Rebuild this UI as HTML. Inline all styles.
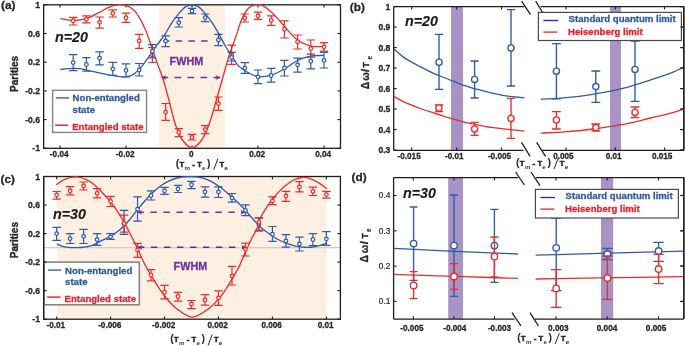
<!DOCTYPE html><html><head><meta charset="utf-8"><style>html,body{margin:0;padding:0;background:#fff;}svg{display:block;font-family:"Liberation Sans",sans-serif;will-change:transform;}</style></head><body>
<svg width="685" height="346" viewBox="0 0 685 346">
<rect width="685" height="346" fill="#fff"/>
<rect x="159.2" y="4.8" width="65.6" height="143.5" fill="#FDEFE1"/>
<rect x="43.65" y="4.8" width="296.85" height="143.5" fill="none" stroke="#1E1E1E" stroke-width="1.3"/>
<line x1="60" y1="4.8" x2="60" y2="7.6" stroke="#1E1E1E" stroke-width="1.1"/>
<line x1="60" y1="148.3" x2="60" y2="145.5" stroke="#1E1E1E" stroke-width="1.1"/>
<text x="59.2" y="156.7" font-size="8.2" fill="#262626" text-anchor="middle" font-weight="bold" stroke="#262626" stroke-width="0.28">-0.04</text>
<line x1="126" y1="4.8" x2="126" y2="7.6" stroke="#1E1E1E" stroke-width="1.1"/>
<line x1="126" y1="148.3" x2="126" y2="145.5" stroke="#1E1E1E" stroke-width="1.1"/>
<text x="125.2" y="156.7" font-size="8.2" fill="#262626" text-anchor="middle" font-weight="bold" stroke="#262626" stroke-width="0.28">-0.02</text>
<line x1="192" y1="4.8" x2="192" y2="7.6" stroke="#1E1E1E" stroke-width="1.1"/>
<line x1="192" y1="148.3" x2="192" y2="145.5" stroke="#1E1E1E" stroke-width="1.1"/>
<text x="191.2" y="156.7" font-size="8.2" fill="#262626" text-anchor="middle" font-weight="bold" stroke="#262626" stroke-width="0.28">0</text>
<line x1="258" y1="4.8" x2="258" y2="7.6" stroke="#1E1E1E" stroke-width="1.1"/>
<line x1="258" y1="148.3" x2="258" y2="145.5" stroke="#1E1E1E" stroke-width="1.1"/>
<text x="257.2" y="156.7" font-size="8.2" fill="#262626" text-anchor="middle" font-weight="bold" stroke="#262626" stroke-width="0.28">0.02</text>
<line x1="324" y1="4.8" x2="324" y2="7.6" stroke="#1E1E1E" stroke-width="1.1"/>
<line x1="324" y1="148.3" x2="324" y2="145.5" stroke="#1E1E1E" stroke-width="1.1"/>
<text x="323.2" y="156.7" font-size="8.2" fill="#262626" text-anchor="middle" font-weight="bold" stroke="#262626" stroke-width="0.28">0.04</text>
<line x1="43.65" y1="4.8" x2="46.65" y2="4.8" stroke="#1E1E1E" stroke-width="1.1"/>
<line x1="340.5" y1="4.8" x2="337.5" y2="4.8" stroke="#1E1E1E" stroke-width="1.1"/>
<text x="40" y="7.9" font-size="8.6" fill="#262626" text-anchor="end" font-weight="bold" stroke="#262626" stroke-width="0.28">1</text>
<line x1="43.65" y1="33.5" x2="46.65" y2="33.5" stroke="#1E1E1E" stroke-width="1.1"/>
<line x1="340.5" y1="33.5" x2="337.5" y2="33.5" stroke="#1E1E1E" stroke-width="1.1"/>
<text x="40" y="36.6" font-size="8.6" fill="#262626" text-anchor="end" font-weight="bold" stroke="#262626" stroke-width="0.28">0.6</text>
<line x1="43.65" y1="62.2" x2="46.65" y2="62.2" stroke="#1E1E1E" stroke-width="1.1"/>
<line x1="340.5" y1="62.2" x2="337.5" y2="62.2" stroke="#1E1E1E" stroke-width="1.1"/>
<text x="40" y="65.3" font-size="8.6" fill="#262626" text-anchor="end" font-weight="bold" stroke="#262626" stroke-width="0.28">0.2</text>
<line x1="43.65" y1="90.9" x2="46.65" y2="90.9" stroke="#1E1E1E" stroke-width="1.1"/>
<line x1="340.5" y1="90.9" x2="337.5" y2="90.9" stroke="#1E1E1E" stroke-width="1.1"/>
<text x="40" y="94" font-size="8.6" fill="#262626" text-anchor="end" font-weight="bold" stroke="#262626" stroke-width="0.28">-0.2</text>
<line x1="43.65" y1="119.6" x2="46.65" y2="119.6" stroke="#1E1E1E" stroke-width="1.1"/>
<line x1="340.5" y1="119.6" x2="337.5" y2="119.6" stroke="#1E1E1E" stroke-width="1.1"/>
<text x="40" y="122.7" font-size="8.6" fill="#262626" text-anchor="end" font-weight="bold" stroke="#262626" stroke-width="0.28">-0.6</text>
<line x1="43.65" y1="148.3" x2="46.65" y2="148.3" stroke="#1E1E1E" stroke-width="1.1"/>
<line x1="340.5" y1="148.3" x2="337.5" y2="148.3" stroke="#1E1E1E" stroke-width="1.1"/>
<text x="40" y="151.4" font-size="8.6" fill="#262626" text-anchor="end" font-weight="bold" stroke="#262626" stroke-width="0.28">-1</text>
<path d="M60.3,69.5 C62.43,69.23 64.56,68.9 66.7,68.7 C68.83,68.5 70.92,68.31 73.1,68.3 C75.38,68.29 77.58,68.36 80.1,68.7 C83.13,69.11 86.56,70.05 90,70.8 C93.74,71.61 97.79,72.58 101.7,73.4 C105.59,74.22 109.5,75.12 113.4,75.7 C117.26,76.28 121.79,77.06 125,76.9 C127.31,76.79 129.11,76.42 130.9,75.7 C132.6,75.02 134.08,73.87 135.5,72.8 C136.87,71.76 137.95,70.84 139.3,69.4 C141.2,67.38 143.45,64.29 145.5,61.5 C147.69,58.51 149.87,55.02 152,52 C153.97,49.2 155.77,46.76 157.8,44 C159.99,41.01 162.48,38.03 164.7,34.7 C167.1,31.1 169.19,26.68 171.6,23.1 C173.83,19.79 176.18,16.69 178.6,13.9 C180.83,11.33 183.1,8.42 185.5,6.9 C187.43,5.68 189.41,4.85 191.5,4.8 C193.74,4.75 196.33,5.59 198.5,6.9 C201.02,8.42 203.17,11.33 205.4,13.9 C207.82,16.69 210.17,19.79 212.4,23.1 C214.81,26.68 217.04,30.71 219.3,34.7 C221.64,38.84 223.93,43.79 226.2,47.5 C228.05,50.54 229.86,52.71 231.7,55.5 C233.66,58.49 235.16,62.22 237.6,64.9 C240.01,67.55 242.98,69.61 246.2,71.5 C249.71,73.56 253.89,75.98 258,76.6 C262.15,77.23 266.72,76.38 271,75.2 C275.56,73.94 280.13,71.41 284.5,69 C288.97,66.53 292.99,62.65 297.5,60.5 C301.78,58.46 306.32,57.06 310.8,56.2 C315.16,55.36 319.6,55.6 324,55.3" stroke="#2E5AAA" stroke-width="1.3" fill="none"/>
<path d="M60.4,18.7 C63.2,19.17 66.21,19.8 68.8,20.1 C71.02,20.36 72.63,20.64 75,20.5 C78.24,20.31 82.55,19.63 86.4,18.4 C90.7,17.03 95.53,14.27 99.5,12.3 C102.89,10.62 105.46,8.65 108.8,7.4 C112.31,6.08 116.56,4.74 120.1,4.7 C123.21,4.67 126.35,5.4 128.9,6.6 C131.27,7.71 133.17,9.43 135,11.4 C137.02,13.58 138.66,16.48 140.3,19.3 C142.04,22.29 143.58,25.41 145.1,28.9 C146.84,32.89 148.33,37.27 150,42 C151.95,47.51 153.87,53.91 156,60 C158.22,66.34 160.97,72.71 163.1,79.3 C165.28,86.04 166.9,92.73 168.9,100 C171.12,108.08 173.13,118.31 175.8,125.6 C177.9,131.34 179.78,136.63 182.8,140.5 C185.37,143.79 188.92,147.99 192,148 C195.09,148.01 198.63,143.91 201.3,140.5 C204.68,136.19 206.93,129.68 209.4,123.2 C212.37,115.4 214.89,104.94 217.3,96.7 C219.4,89.52 221.17,83.24 223.1,76.5 C225.04,69.74 226.74,62.92 228.9,56.2 C231.07,49.42 233.86,42.48 236.1,36 C238.17,30.02 239.85,23.33 241.9,18.7 C243.37,15.38 244.75,12.7 246.5,10.5 C247.95,8.67 249.46,7.07 251.3,6.1 C253.1,5.15 255.37,4.7 257.4,4.7 C259.43,4.7 261.45,5.12 263.5,6.1 C266.1,7.34 268.99,10.17 271.4,12.3 C273.63,14.28 275.44,16.18 277.5,18.4 C279.8,20.87 281.76,23.5 284.5,26.5 C288.12,30.47 292.81,36.65 297.5,40 C301.65,42.97 306.26,45.12 310.8,46.2 C315.11,47.22 319.6,46.47 324,46.6" stroke="#EA2D2A" stroke-width="1.3" fill="none"/>
<line x1="163" y1="41.1" x2="209" y2="41.1" stroke="#7030A0" stroke-width="1.5" stroke-dasharray="6.5 6.2" stroke-dashoffset="0"/>
<line x1="161.5" y1="77.5" x2="220.3" y2="77.5" stroke="#7030A0" stroke-width="1.5" stroke-dasharray="6.7 6.3"/>
<path d="M161.5,77.5 L166.1,75.1 L164.9,77.5 L166.1,79.9 Z" fill="#7030A0"/>
<path d="M220.3,77.5 L215.7,75.1 L216.9,77.5 L215.7,79.9 Z" fill="#7030A0"/>
<path d="M73.2,17.4V25M69,17.4H77.4M69,25H77.4" stroke="#EA2D2A" stroke-width="1.2" fill="none"/>
<circle cx="73.2" cy="20.7" r="1.8" fill="#fff" stroke="#EA2D2A" stroke-width="1.25"/>
<path d="M86.4,15.8V22.8M82.2,15.8H90.6M82.2,22.8H90.6" stroke="#EA2D2A" stroke-width="1.2" fill="none"/>
<circle cx="86.4" cy="19.3" r="1.8" fill="#fff" stroke="#EA2D2A" stroke-width="1.25"/>
<path d="M99.6,17V28.2M95.4,17H103.8M95.4,28.2H103.8" stroke="#EA2D2A" stroke-width="1.2" fill="none"/>
<circle cx="99.6" cy="22.3" r="1.8" fill="#fff" stroke="#EA2D2A" stroke-width="1.25"/>
<path d="M112.8,9.9V17M108.6,9.9H117M108.6,17H117" stroke="#EA2D2A" stroke-width="1.2" fill="none"/>
<circle cx="112.8" cy="13.3" r="1.8" fill="#fff" stroke="#EA2D2A" stroke-width="1.25"/>
<path d="M126,13.2V22.4M121.8,13.2H130.2M121.8,22.4H130.2" stroke="#EA2D2A" stroke-width="1.2" fill="none"/>
<circle cx="126" cy="17.7" r="1.8" fill="#fff" stroke="#EA2D2A" stroke-width="1.25"/>
<path d="M139.2,34.4V48.3M135,34.4H143.4M135,48.3H143.4" stroke="#EA2D2A" stroke-width="1.2" fill="none"/>
<circle cx="139.2" cy="41" r="1.8" fill="#fff" stroke="#EA2D2A" stroke-width="1.25"/>
<path d="M152.4,47.6V62.5M148.2,47.6H156.6M148.2,62.5H156.6" stroke="#EA2D2A" stroke-width="1.2" fill="none"/>
<circle cx="152.4" cy="55" r="1.8" fill="#fff" stroke="#EA2D2A" stroke-width="1.25"/>
<path d="M165.6,103.5V120.4M161.4,103.5H169.8M161.4,120.4H169.8" stroke="#EA2D2A" stroke-width="1.2" fill="none"/>
<circle cx="165.6" cy="112.2" r="1.8" fill="#fff" stroke="#EA2D2A" stroke-width="1.25"/>
<path d="M178.8,128.6V136.6M174.6,128.6H183M174.6,136.6H183" stroke="#EA2D2A" stroke-width="1.2" fill="none"/>
<circle cx="178.8" cy="132.4" r="1.8" fill="#fff" stroke="#EA2D2A" stroke-width="1.25"/>
<path d="M192,134.4V140M187.8,134.4H196.2M187.8,140H196.2" stroke="#EA2D2A" stroke-width="1.2" fill="none"/>
<circle cx="192" cy="137.4" r="1.8" fill="#fff" stroke="#EA2D2A" stroke-width="1.25"/>
<path d="M205.2,125.6V133.6M201,125.6H209.4M201,133.6H209.4" stroke="#EA2D2A" stroke-width="1.2" fill="none"/>
<circle cx="205.2" cy="129.6" r="1.8" fill="#fff" stroke="#EA2D2A" stroke-width="1.25"/>
<path d="M218.4,97V110.4M214.2,97H222.6M214.2,110.4H222.6" stroke="#EA2D2A" stroke-width="1.2" fill="none"/>
<circle cx="218.4" cy="103.6" r="1.8" fill="#fff" stroke="#EA2D2A" stroke-width="1.25"/>
<path d="M231.6,45.2V64.4M227.4,45.2H235.8M227.4,64.4H235.8" stroke="#EA2D2A" stroke-width="1.2" fill="none"/>
<circle cx="231.6" cy="55" r="1.8" fill="#fff" stroke="#EA2D2A" stroke-width="1.25"/>
<path d="M244.8,14V22M240.6,14H249M240.6,22H249" stroke="#EA2D2A" stroke-width="1.2" fill="none"/>
<circle cx="244.8" cy="18" r="1.8" fill="#fff" stroke="#EA2D2A" stroke-width="1.25"/>
<path d="M258,12.2V19.3M253.8,12.2H262.2M253.8,19.3H262.2" stroke="#EA2D2A" stroke-width="1.2" fill="none"/>
<circle cx="258" cy="15.8" r="1.8" fill="#fff" stroke="#EA2D2A" stroke-width="1.25"/>
<path d="M271.2,15.8V25.3M267,15.8H275.4M267,25.3H275.4" stroke="#EA2D2A" stroke-width="1.2" fill="none"/>
<circle cx="271.2" cy="20.3" r="1.8" fill="#fff" stroke="#EA2D2A" stroke-width="1.25"/>
<path d="M284.4,20.8V38M280.2,20.8H288.6M280.2,38H288.6" stroke="#EA2D2A" stroke-width="1.2" fill="none"/>
<circle cx="284.4" cy="29.2" r="1.8" fill="#fff" stroke="#EA2D2A" stroke-width="1.25"/>
<path d="M297.6,35V49M293.4,35H301.8M293.4,49H301.8" stroke="#EA2D2A" stroke-width="1.2" fill="none"/>
<circle cx="297.6" cy="41.7" r="1.8" fill="#fff" stroke="#EA2D2A" stroke-width="1.25"/>
<path d="M310.8,40V57.2M306.6,40H315M306.6,57.2H315" stroke="#EA2D2A" stroke-width="1.2" fill="none"/>
<circle cx="310.8" cy="48.6" r="1.8" fill="#fff" stroke="#EA2D2A" stroke-width="1.25"/>
<path d="M324,42.6V51.2M319.8,42.6H328.2M319.8,51.2H328.2" stroke="#EA2D2A" stroke-width="1.2" fill="none"/>
<circle cx="324" cy="46.8" r="1.8" fill="#fff" stroke="#EA2D2A" stroke-width="1.25"/>
<path d="M73.2,54.6V70.6M69,54.6H77.4M69,70.6H77.4" stroke="#2E5AAA" stroke-width="1.2" fill="none"/>
<circle cx="73.2" cy="62.6" r="1.8" fill="#fff" stroke="#2E5AAA" stroke-width="1.25"/>
<path d="M86.4,57.6V71.2M82.2,57.6H90.6M82.2,71.2H90.6" stroke="#2E5AAA" stroke-width="1.2" fill="none"/>
<circle cx="86.4" cy="64.5" r="1.8" fill="#fff" stroke="#2E5AAA" stroke-width="1.25"/>
<path d="M99.6,51.9V64.8M95.4,51.9H103.8M95.4,64.8H103.8" stroke="#2E5AAA" stroke-width="1.2" fill="none"/>
<circle cx="99.6" cy="58.2" r="1.8" fill="#fff" stroke="#2E5AAA" stroke-width="1.25"/>
<path d="M112.8,62.4V75.3M108.6,62.4H117M108.6,75.3H117" stroke="#2E5AAA" stroke-width="1.2" fill="none"/>
<circle cx="112.8" cy="68.8" r="1.8" fill="#fff" stroke="#2E5AAA" stroke-width="1.25"/>
<path d="M126,63.8V77M121.8,63.8H130.2M121.8,77H130.2" stroke="#2E5AAA" stroke-width="1.2" fill="none"/>
<circle cx="126" cy="70.4" r="1.8" fill="#fff" stroke="#2E5AAA" stroke-width="1.25"/>
<path d="M139.2,63.5V76M135,63.5H143.4M135,76H143.4" stroke="#2E5AAA" stroke-width="1.2" fill="none"/>
<circle cx="139.2" cy="70.1" r="1.8" fill="#fff" stroke="#2E5AAA" stroke-width="1.25"/>
<path d="M152.4,44.6V57.8M148.2,44.6H156.6M148.2,57.8H156.6" stroke="#2E5AAA" stroke-width="1.2" fill="none"/>
<circle cx="152.4" cy="51.2" r="1.8" fill="#fff" stroke="#2E5AAA" stroke-width="1.25"/>
<path d="M165.6,35.8V46.6M161.4,35.8H169.8M161.4,46.6H169.8" stroke="#2E5AAA" stroke-width="1.2" fill="none"/>
<circle cx="165.6" cy="41" r="1.8" fill="#fff" stroke="#2E5AAA" stroke-width="1.25"/>
<path d="M178.8,17.6V27M174.6,17.6H183M174.6,27H183" stroke="#2E5AAA" stroke-width="1.2" fill="none"/>
<circle cx="178.8" cy="22.6" r="1.8" fill="#fff" stroke="#2E5AAA" stroke-width="1.25"/>
<path d="M192,8.4V13.6M187.8,8.4H196.2M187.8,13.6H196.2" stroke="#2E5AAA" stroke-width="1.2" fill="none"/>
<circle cx="192" cy="11" r="1.8" fill="#fff" stroke="#2E5AAA" stroke-width="1.25"/>
<path d="M205.2,14V21.6M201,14H209.4M201,21.6H209.4" stroke="#2E5AAA" stroke-width="1.2" fill="none"/>
<circle cx="205.2" cy="17.6" r="1.8" fill="#fff" stroke="#2E5AAA" stroke-width="1.25"/>
<path d="M218.4,34.4V45.6M214.2,34.4H222.6M214.2,45.6H222.6" stroke="#2E5AAA" stroke-width="1.2" fill="none"/>
<circle cx="218.4" cy="40" r="1.8" fill="#fff" stroke="#2E5AAA" stroke-width="1.25"/>
<path d="M231.6,52.4V61M227.4,52.4H235.8M227.4,61H235.8" stroke="#2E5AAA" stroke-width="1.2" fill="none"/>
<circle cx="231.6" cy="57.4" r="1.8" fill="#fff" stroke="#2E5AAA" stroke-width="1.25"/>
<path d="M244.8,62.6V73.4M240.6,62.6H249M240.6,73.4H249" stroke="#2E5AAA" stroke-width="1.2" fill="none"/>
<circle cx="244.8" cy="68.2" r="1.8" fill="#fff" stroke="#2E5AAA" stroke-width="1.25"/>
<path d="M258,70V83.7M253.8,70H262.2M253.8,83.7H262.2" stroke="#2E5AAA" stroke-width="1.2" fill="none"/>
<circle cx="258" cy="76.8" r="1.8" fill="#fff" stroke="#2E5AAA" stroke-width="1.25"/>
<path d="M271.2,68.4V82.2M267,68.4H275.4M267,82.2H275.4" stroke="#2E5AAA" stroke-width="1.2" fill="none"/>
<circle cx="271.2" cy="75.5" r="1.8" fill="#fff" stroke="#2E5AAA" stroke-width="1.25"/>
<path d="M284.4,60.4V76M280.2,60.4H288.6M280.2,76H288.6" stroke="#2E5AAA" stroke-width="1.2" fill="none"/>
<circle cx="284.4" cy="68" r="1.8" fill="#fff" stroke="#2E5AAA" stroke-width="1.25"/>
<path d="M297.6,58.1V72.2M293.4,58.1H301.8M293.4,72.2H301.8" stroke="#2E5AAA" stroke-width="1.2" fill="none"/>
<circle cx="297.6" cy="64.8" r="1.8" fill="#fff" stroke="#2E5AAA" stroke-width="1.25"/>
<path d="M310.8,54.1V68.8M306.6,54.1H315M306.6,68.8H315" stroke="#2E5AAA" stroke-width="1.2" fill="none"/>
<circle cx="310.8" cy="61.2" r="1.8" fill="#fff" stroke="#2E5AAA" stroke-width="1.25"/>
<path d="M324,52.3V68M319.8,52.3H328.2M319.8,68H328.2" stroke="#2E5AAA" stroke-width="1.2" fill="none"/>
<circle cx="324" cy="60.4" r="1.8" fill="#fff" stroke="#2E5AAA" stroke-width="1.25"/>
<text x="169.6" y="64.6" font-size="10.8" fill="#7030A0" text-anchor="start" font-weight="bold" stroke="#7030A0" stroke-width="0.28">FWHM</text>
<rect x="52.6" y="90.3" width="93.9" height="42.1" fill="#fff" stroke="#858585" stroke-width="1.4"/>
<line x1="55.8" y1="97.9" x2="69" y2="97.9" stroke="#4A6DB3" stroke-width="1.5"/>
<line x1="55.1" y1="125.2" x2="68.2" y2="125.2" stroke="#EA2D2A" stroke-width="1.5"/>
<text x="72.6" y="101.4" font-size="9.6" fill="#2F58A0" text-anchor="start" font-weight="bold" stroke="#2F58A0" stroke-width="0.28">Non-entangled</text>
<text x="72.6" y="112.8" font-size="9.6" fill="#2F58A0" text-anchor="start" font-weight="bold" stroke="#2F58A0" stroke-width="0.28">state</text>
<text x="72.2" y="129.6" font-size="9.6" fill="#E8202A" text-anchor="start" font-weight="bold" stroke="#E8202A" stroke-width="0.28">Entangled state</text>
<text x="55" y="41.5" font-size="14.3" fill="#1A1A1A" text-anchor="start" font-weight="bold" font-style="italic" stroke="#1A1A1A" stroke-width="0.1">n=20</text>
<text x="1" y="9.3" font-size="11.8" fill="#262626" text-anchor="start" font-weight="bold" stroke="#262626" stroke-width="0.28">(a)</text>
<text transform="translate(18.2,73.9) rotate(-90)" font-size="10" fill="#262626" stroke="#262626" stroke-width="0.35" text-anchor="middle" font-weight="bold">Parities</text>
<text x="175.8" y="166.8" font-size="10.5" fill="#262626" text-anchor="start" font-weight="bold">(</text>
<text x="179.5" y="166.8" font-size="7.5" fill="#262626" text-anchor="start" font-weight="bold" stroke="#262626" stroke-width="0.55">T</text>
<text x="184.6" y="169.8" font-size="6.2" fill="#3a3a3a" text-anchor="start" font-weight="bold">m</text>
<text x="192.3" y="166.8" font-size="8" fill="#262626" text-anchor="start" font-weight="bold" stroke="#262626" stroke-width="0.6">-</text>
<text x="197.2" y="166.8" font-size="7.5" fill="#262626" text-anchor="start" font-weight="bold" stroke="#262626" stroke-width="0.55">T</text>
<text x="202" y="169.8" font-size="6.2" fill="#3a3a3a" text-anchor="start" font-weight="bold">e</text>
<text x="207.1" y="166.8" font-size="10.5" fill="#262626" text-anchor="start" font-weight="bold">)</text>
<line x1="213.7" y1="169.7" x2="217.9" y2="158.8" stroke="#262626" stroke-width="1.0"/>
<text x="219.5" y="166.8" font-size="7.5" fill="#262626" text-anchor="start" font-weight="bold" stroke="#262626" stroke-width="0.55">T</text>
<text x="224.4" y="169.8" font-size="6.2" fill="#333" text-anchor="start" font-weight="bold" stroke="#333" stroke-width="0.1">e</text>
<rect x="57" y="176.5" width="269.6" height="142.7" fill="#FDEFE1"/>
<line x1="43.65" y1="247.6" x2="340.4" y2="247.6" stroke="#CFCBC6" stroke-width="1.1"/>
<rect x="43.65" y="176.5" width="296.75" height="142.7" fill="none" stroke="#1E1E1E" stroke-width="1.3"/>
<line x1="56.6" y1="176.5" x2="56.6" y2="179.3" stroke="#1E1E1E" stroke-width="1.1"/>
<line x1="56.6" y1="319.2" x2="56.6" y2="316.4" stroke="#1E1E1E" stroke-width="1.1"/>
<text x="55.8" y="327.9" font-size="8.2" fill="#262626" text-anchor="middle" font-weight="bold" stroke="#262626" stroke-width="0.28">-0.01</text>
<line x1="110.56" y1="176.5" x2="110.56" y2="179.3" stroke="#1E1E1E" stroke-width="1.1"/>
<line x1="110.56" y1="319.2" x2="110.56" y2="316.4" stroke="#1E1E1E" stroke-width="1.1"/>
<text x="109.76" y="327.9" font-size="8.2" fill="#262626" text-anchor="middle" font-weight="bold" stroke="#262626" stroke-width="0.28">-0.006</text>
<line x1="164.52" y1="176.5" x2="164.52" y2="179.3" stroke="#1E1E1E" stroke-width="1.1"/>
<line x1="164.52" y1="319.2" x2="164.52" y2="316.4" stroke="#1E1E1E" stroke-width="1.1"/>
<text x="163.72" y="327.9" font-size="8.2" fill="#262626" text-anchor="middle" font-weight="bold" stroke="#262626" stroke-width="0.28">-0.002</text>
<line x1="218.48" y1="176.5" x2="218.48" y2="179.3" stroke="#1E1E1E" stroke-width="1.1"/>
<line x1="218.48" y1="319.2" x2="218.48" y2="316.4" stroke="#1E1E1E" stroke-width="1.1"/>
<text x="217.68" y="327.9" font-size="8.2" fill="#262626" text-anchor="middle" font-weight="bold" stroke="#262626" stroke-width="0.28">0.002</text>
<line x1="272.44" y1="176.5" x2="272.44" y2="179.3" stroke="#1E1E1E" stroke-width="1.1"/>
<line x1="272.44" y1="319.2" x2="272.44" y2="316.4" stroke="#1E1E1E" stroke-width="1.1"/>
<text x="271.64" y="327.9" font-size="8.2" fill="#262626" text-anchor="middle" font-weight="bold" stroke="#262626" stroke-width="0.28">0.006</text>
<line x1="326.4" y1="176.5" x2="326.4" y2="179.3" stroke="#1E1E1E" stroke-width="1.1"/>
<line x1="326.4" y1="319.2" x2="326.4" y2="316.4" stroke="#1E1E1E" stroke-width="1.1"/>
<text x="325.6" y="327.9" font-size="8.2" fill="#262626" text-anchor="middle" font-weight="bold" stroke="#262626" stroke-width="0.28">0.01</text>
<line x1="43.65" y1="176.5" x2="46.65" y2="176.5" stroke="#1E1E1E" stroke-width="1.1"/>
<line x1="340.4" y1="176.5" x2="337.4" y2="176.5" stroke="#1E1E1E" stroke-width="1.1"/>
<text x="40" y="179.6" font-size="8.6" fill="#262626" text-anchor="end" font-weight="bold" stroke="#262626" stroke-width="0.28">1</text>
<line x1="43.65" y1="205.04" x2="46.65" y2="205.04" stroke="#1E1E1E" stroke-width="1.1"/>
<line x1="340.4" y1="205.04" x2="337.4" y2="205.04" stroke="#1E1E1E" stroke-width="1.1"/>
<text x="40" y="208.14" font-size="8.6" fill="#262626" text-anchor="end" font-weight="bold" stroke="#262626" stroke-width="0.28">0.6</text>
<line x1="43.65" y1="233.58" x2="46.65" y2="233.58" stroke="#1E1E1E" stroke-width="1.1"/>
<line x1="340.4" y1="233.58" x2="337.4" y2="233.58" stroke="#1E1E1E" stroke-width="1.1"/>
<text x="40" y="236.68" font-size="8.6" fill="#262626" text-anchor="end" font-weight="bold" stroke="#262626" stroke-width="0.28">0.2</text>
<line x1="43.65" y1="262.12" x2="46.65" y2="262.12" stroke="#1E1E1E" stroke-width="1.1"/>
<line x1="340.4" y1="262.12" x2="337.4" y2="262.12" stroke="#1E1E1E" stroke-width="1.1"/>
<text x="40" y="265.22" font-size="8.6" fill="#262626" text-anchor="end" font-weight="bold" stroke="#262626" stroke-width="0.28">-0.2</text>
<line x1="43.65" y1="290.66" x2="46.65" y2="290.66" stroke="#1E1E1E" stroke-width="1.1"/>
<line x1="340.4" y1="290.66" x2="337.4" y2="290.66" stroke="#1E1E1E" stroke-width="1.1"/>
<text x="40" y="293.76" font-size="8.6" fill="#262626" text-anchor="end" font-weight="bold" stroke="#262626" stroke-width="0.28">-0.6</text>
<line x1="43.65" y1="319.2" x2="46.65" y2="319.2" stroke="#1E1E1E" stroke-width="1.1"/>
<line x1="340.4" y1="319.2" x2="337.4" y2="319.2" stroke="#1E1E1E" stroke-width="1.1"/>
<text x="40" y="322.3" font-size="8.6" fill="#262626" text-anchor="end" font-weight="bold" stroke="#262626" stroke-width="0.28">-1</text>
<path d="M56.8,244.2 C58.67,244.9 60.46,245.79 62.4,246.3 C64.39,246.83 66.53,247.08 68.6,247.3 C70.66,247.52 72.73,247.57 74.8,247.6 C76.87,247.63 78.94,247.67 81,247.5 C83.07,247.33 85.15,247.04 87.2,246.6 C89.28,246.15 91.37,245.6 93.4,244.8 C95.5,243.98 97.53,242.73 99.6,241.7 C101.67,240.67 103.73,239.63 105.8,238.6 C107.87,237.57 109.98,236.71 112,235.5 C114.12,234.23 116.18,232.72 118.2,231.1 C120.32,229.4 122.39,227.53 124.4,225.5 C126.53,223.35 128.58,220.94 130.6,218.5 C132.69,215.98 134.48,213.37 136.7,210.6 C139.25,207.42 142.41,203.52 145.1,200.5 C147.41,197.91 149.38,195.79 151.8,193.5 C154.39,191.05 157.31,188.39 160.2,186.3 C162.92,184.33 165.73,182.6 168.6,181.2 C171.34,179.86 173.82,178.76 177,178 C180.89,177.07 186.09,176.59 190.4,176.6 C194.43,176.61 198.57,177.03 202.1,177.9 C205.19,178.66 207.76,179.84 210.5,181.2 C213.36,182.62 216.16,184.39 218.9,186.3 C221.77,188.3 224.53,190.66 227.3,193 C230.13,195.39 232.94,197.89 235.7,200.5 C238.54,203.18 241.44,206.03 244.1,208.9 C246.7,211.7 249,214.69 251.5,217.5 C253.97,220.28 256.46,223.28 259,225.7 C261.3,227.89 263.63,229.68 266,231.5 C268.3,233.27 270.63,234.98 273,236.5 C275.3,237.97 277.65,239.33 280,240.5 C282.25,241.62 284.5,242.55 286.8,243.4 C289.07,244.24 291.38,245.03 293.7,245.6 C295.98,246.16 298.29,246.52 300.6,246.8 C302.89,247.08 305.23,247.31 307.5,247.3 C309.7,247.3 311.84,247.11 314,246.8 C316.18,246.48 318.34,245.99 320.5,245.4 C322.71,244.8 324.9,243.93 327.1,243.2" stroke="#2E5AAA" stroke-width="1.3" fill="none"/>
<path d="M56.1,184.6 C59.17,182.8 61.95,180.48 65.3,179.2 C68.82,177.86 72.88,176.62 76.8,176.9 C81.06,177.2 85.84,179.11 89.9,181.5 C94.28,184.07 98.08,188.2 102,192.2 C106.27,196.55 110.73,201.8 114.4,206.8 C117.88,211.55 120.84,216.61 123.6,221.4 C126.16,225.83 128.33,230.27 130.5,234.5 C132.51,238.42 134.15,241.66 136.2,245.9 C138.74,251.16 141.51,257.93 144.5,263.7 C147.45,269.39 150.74,275.04 154,280.3 C157.08,285.27 159.98,289.98 163.5,294.5 C167.07,299.09 170.69,303.88 175.3,307.6 C180.1,311.47 186.32,316.94 191.9,317.1 C197.39,317.25 203.67,312.28 208.5,308.8 C213.1,305.48 216.84,301.23 220.4,296.9 C223.98,292.54 226.83,287.68 229.9,282.7 C233.14,277.44 236.51,271.71 239.3,266.1 C242.02,260.64 244.22,254.51 246.5,249.5 C248.42,245.3 250.21,241.58 252,238 C253.6,234.8 255.38,232.14 256.7,229 C258.05,225.78 258.47,222.31 260,218.9 C261.72,215.05 264.45,210.81 266.8,207.2 C268.96,203.89 271.2,200.87 273.5,198 C275.67,195.29 277.89,192.69 280.2,190.4 C282.36,188.26 284.62,186.36 286.9,184.6 C289.09,182.91 291.14,181.17 293.6,180 C296.16,178.78 299.18,177.71 302,177.5 C304.78,177.29 307.68,177.84 310.4,178.7 C313.25,179.6 315.98,181.27 318.7,182.9 C321.55,184.61 324.3,186.83 327.1,188.8" stroke="#EA2D2A" stroke-width="1.3" fill="none"/>
<line x1="137.4" y1="212.3" x2="245" y2="212.3" stroke="#7030A0" stroke-width="1.5" stroke-dasharray="6.4 6.6"/>
<path d="M137.4,212.3 L142,209.9 L140.8,212.3 L142,214.7 Z" fill="#7030A0"/>
<path d="M245,212.3 L240.4,209.9 L241.6,212.3 L240.4,214.7 Z" fill="#7030A0"/>
<line x1="138" y1="247.3" x2="246" y2="247.3" stroke="#5A2C9A" stroke-width="1.5" stroke-dasharray="6.4 6.6"/>
<path d="M138,247.3 L142.6,244.9 L141.4,247.3 L142.6,249.7 Z" fill="#5A2C9A"/>
<path d="M246,247.3 L241.4,244.9 L242.6,247.3 L241.4,249.7 Z" fill="#5A2C9A"/>
<path d="M56.6,227.4V240.4M52.4,227.4H60.8M52.4,240.4H60.8" stroke="#2E5AAA" stroke-width="1.2" fill="none"/>
<circle cx="56.6" cy="233.6" r="1.8" fill="#fff" stroke="#2E5AAA" stroke-width="1.25"/>
<path d="M70.09,233.6V243.5M65.89,233.6H74.29M65.89,243.5H74.29" stroke="#2E5AAA" stroke-width="1.2" fill="none"/>
<circle cx="70.09" cy="238.6" r="1.8" fill="#fff" stroke="#2E5AAA" stroke-width="1.25"/>
<path d="M83.58,229.3V243.5M79.38,229.3H87.78M79.38,243.5H87.78" stroke="#2E5AAA" stroke-width="1.2" fill="none"/>
<circle cx="83.58" cy="236.3" r="1.8" fill="#fff" stroke="#2E5AAA" stroke-width="1.25"/>
<path d="M97.07,233.6V245.4M92.87,233.6H101.27M92.87,245.4H101.27" stroke="#2E5AAA" stroke-width="1.2" fill="none"/>
<circle cx="97.07" cy="239.6" r="1.8" fill="#fff" stroke="#2E5AAA" stroke-width="1.25"/>
<path d="M110.56,233.6V239.4M106.36,233.6H114.76M106.36,239.4H114.76" stroke="#2E5AAA" stroke-width="1.2" fill="none"/>
<circle cx="110.56" cy="236.8" r="1.8" fill="#fff" stroke="#2E5AAA" stroke-width="1.25"/>
<path d="M124.05,210.3V234.3M119.85,210.3H128.25M119.85,234.3H128.25" stroke="#2E5AAA" stroke-width="1.2" fill="none"/>
<circle cx="124.05" cy="223.6" r="1.8" fill="#fff" stroke="#2E5AAA" stroke-width="1.25"/>
<path d="M137.54,196.8V221.2M133.34,196.8H141.74M133.34,221.2H141.74" stroke="#2E5AAA" stroke-width="1.2" fill="none"/>
<circle cx="137.54" cy="209.2" r="1.8" fill="#fff" stroke="#2E5AAA" stroke-width="1.25"/>
<path d="M151.03,190.8V200M146.83,190.8H155.23M146.83,200H155.23" stroke="#2E5AAA" stroke-width="1.2" fill="none"/>
<circle cx="151.03" cy="195.5" r="1.8" fill="#fff" stroke="#2E5AAA" stroke-width="1.25"/>
<path d="M164.52,187.4V194.3M160.32,187.4H168.72M160.32,194.3H168.72" stroke="#2E5AAA" stroke-width="1.2" fill="none"/>
<circle cx="164.52" cy="190.8" r="1.8" fill="#fff" stroke="#2E5AAA" stroke-width="1.25"/>
<path d="M178.01,185.4V192.5M173.81,185.4H182.21M173.81,192.5H182.21" stroke="#2E5AAA" stroke-width="1.2" fill="none"/>
<circle cx="178.01" cy="188.8" r="1.8" fill="#fff" stroke="#2E5AAA" stroke-width="1.25"/>
<path d="M191.5,181.3V188.6M187.3,181.3H195.7M187.3,188.6H195.7" stroke="#2E5AAA" stroke-width="1.2" fill="none"/>
<circle cx="191.5" cy="184.7" r="1.8" fill="#fff" stroke="#2E5AAA" stroke-width="1.25"/>
<path d="M204.99,186.8V197.2M200.79,186.8H209.19M200.79,197.2H209.19" stroke="#2E5AAA" stroke-width="1.2" fill="none"/>
<circle cx="204.99" cy="191.8" r="1.8" fill="#fff" stroke="#2E5AAA" stroke-width="1.25"/>
<path d="M218.48,186.8V197.5M214.28,186.8H222.68M214.28,197.5H222.68" stroke="#2E5AAA" stroke-width="1.2" fill="none"/>
<circle cx="218.48" cy="191.8" r="1.8" fill="#fff" stroke="#2E5AAA" stroke-width="1.25"/>
<path d="M231.97,193.5V202.2M227.77,193.5H236.17M227.77,202.2H236.17" stroke="#2E5AAA" stroke-width="1.2" fill="none"/>
<circle cx="231.97" cy="197.8" r="1.8" fill="#fff" stroke="#2E5AAA" stroke-width="1.25"/>
<path d="M245.46,204.8V215.7M241.26,204.8H249.66M241.26,215.7H249.66" stroke="#2E5AAA" stroke-width="1.2" fill="none"/>
<circle cx="245.46" cy="210.4" r="1.8" fill="#fff" stroke="#2E5AAA" stroke-width="1.25"/>
<path d="M258.95,217.8V230.3M254.75,217.8H263.15M254.75,230.3H263.15" stroke="#2E5AAA" stroke-width="1.2" fill="none"/>
<circle cx="258.95" cy="224.2" r="1.8" fill="#fff" stroke="#2E5AAA" stroke-width="1.25"/>
<path d="M272.44,226.5V241.4M268.24,226.5H276.64M268.24,241.4H276.64" stroke="#2E5AAA" stroke-width="1.2" fill="none"/>
<circle cx="272.44" cy="234.2" r="1.8" fill="#fff" stroke="#2E5AAA" stroke-width="1.25"/>
<path d="M285.93,234.6V247.2M281.73,234.6H290.13M281.73,247.2H290.13" stroke="#2E5AAA" stroke-width="1.2" fill="none"/>
<circle cx="285.93" cy="240.8" r="1.8" fill="#fff" stroke="#2E5AAA" stroke-width="1.25"/>
<path d="M299.42,237.2V251M295.22,237.2H303.62M295.22,251H303.62" stroke="#2E5AAA" stroke-width="1.2" fill="none"/>
<circle cx="299.42" cy="243.8" r="1.8" fill="#fff" stroke="#2E5AAA" stroke-width="1.25"/>
<path d="M312.91,233.7V245.7M308.71,233.7H317.11M308.71,245.7H317.11" stroke="#2E5AAA" stroke-width="1.2" fill="none"/>
<circle cx="312.91" cy="239.5" r="1.8" fill="#fff" stroke="#2E5AAA" stroke-width="1.25"/>
<path d="M326.4,231.6V245.4M322.2,231.6H330.6M322.2,245.4H330.6" stroke="#2E5AAA" stroke-width="1.2" fill="none"/>
<circle cx="326.4" cy="238.8" r="1.8" fill="#fff" stroke="#2E5AAA" stroke-width="1.25"/>
<path d="M56.6,191.5V199.1M52.4,191.5H60.8M52.4,199.1H60.8" stroke="#EA2D2A" stroke-width="1.2" fill="none"/>
<circle cx="56.6" cy="194.8" r="1.8" fill="#fff" stroke="#EA2D2A" stroke-width="1.25"/>
<path d="M70.09,186.6V194.8M65.89,186.6H74.29M65.89,194.8H74.29" stroke="#EA2D2A" stroke-width="1.2" fill="none"/>
<circle cx="70.09" cy="190.7" r="1.8" fill="#fff" stroke="#EA2D2A" stroke-width="1.25"/>
<path d="M83.58,182V190M79.38,182H87.78M79.38,190H87.78" stroke="#EA2D2A" stroke-width="1.2" fill="none"/>
<circle cx="83.58" cy="185.8" r="1.8" fill="#fff" stroke="#EA2D2A" stroke-width="1.25"/>
<path d="M97.07,188.7V197.9M92.87,188.7H101.27M92.87,197.9H101.27" stroke="#EA2D2A" stroke-width="1.2" fill="none"/>
<circle cx="97.07" cy="193.3" r="1.8" fill="#fff" stroke="#EA2D2A" stroke-width="1.25"/>
<path d="M110.56,196.4V206.5M106.36,196.4H114.76M106.36,206.5H114.76" stroke="#EA2D2A" stroke-width="1.2" fill="none"/>
<circle cx="110.56" cy="201.4" r="1.8" fill="#fff" stroke="#EA2D2A" stroke-width="1.25"/>
<path d="M124.05,215.2V232.1M119.85,215.2H128.25M119.85,232.1H128.25" stroke="#EA2D2A" stroke-width="1.2" fill="none"/>
<circle cx="124.05" cy="223.4" r="1.8" fill="#fff" stroke="#EA2D2A" stroke-width="1.25"/>
<path d="M137.54,243.4V257.4M133.34,243.4H141.74M133.34,257.4H141.74" stroke="#EA2D2A" stroke-width="1.2" fill="none"/>
<circle cx="137.54" cy="250" r="1.8" fill="#fff" stroke="#EA2D2A" stroke-width="1.25"/>
<path d="M151.03,269.6V280.8M146.83,269.6H155.23M146.83,280.8H155.23" stroke="#EA2D2A" stroke-width="1.2" fill="none"/>
<circle cx="151.03" cy="275.1" r="1.8" fill="#fff" stroke="#EA2D2A" stroke-width="1.25"/>
<path d="M164.52,285.4V298.8M160.32,285.4H168.72M160.32,298.8H168.72" stroke="#EA2D2A" stroke-width="1.2" fill="none"/>
<circle cx="164.52" cy="292.2" r="1.8" fill="#fff" stroke="#EA2D2A" stroke-width="1.25"/>
<path d="M178.01,292.4V301.1M173.81,292.4H182.21M173.81,301.1H182.21" stroke="#EA2D2A" stroke-width="1.2" fill="none"/>
<circle cx="178.01" cy="296.5" r="1.8" fill="#fff" stroke="#EA2D2A" stroke-width="1.25"/>
<path d="M191.5,300.5V308.7M187.3,300.5H195.7M187.3,308.7H195.7" stroke="#EA2D2A" stroke-width="1.2" fill="none"/>
<circle cx="191.5" cy="304" r="1.8" fill="#fff" stroke="#EA2D2A" stroke-width="1.25"/>
<path d="M204.99,294.6V305.1M200.79,294.6H209.19M200.79,305.1H209.19" stroke="#EA2D2A" stroke-width="1.2" fill="none"/>
<circle cx="204.99" cy="300" r="1.8" fill="#fff" stroke="#EA2D2A" stroke-width="1.25"/>
<path d="M218.48,290.8V305.3M214.28,290.8H222.68M214.28,305.3H222.68" stroke="#EA2D2A" stroke-width="1.2" fill="none"/>
<circle cx="218.48" cy="298" r="1.8" fill="#fff" stroke="#EA2D2A" stroke-width="1.25"/>
<path d="M231.97,266.4V285M227.77,266.4H236.17M227.77,285H236.17" stroke="#EA2D2A" stroke-width="1.2" fill="none"/>
<circle cx="231.97" cy="275.8" r="1.8" fill="#fff" stroke="#EA2D2A" stroke-width="1.25"/>
<path d="M245.46,243.2V256M241.26,243.2H249.66M241.26,256H249.66" stroke="#EA2D2A" stroke-width="1.2" fill="none"/>
<circle cx="245.46" cy="249.3" r="1.8" fill="#fff" stroke="#EA2D2A" stroke-width="1.25"/>
<path d="M258.95,217.8V231.1M254.75,217.8H263.15M254.75,231.1H263.15" stroke="#EA2D2A" stroke-width="1.2" fill="none"/>
<circle cx="258.95" cy="222.3" r="1.8" fill="#fff" stroke="#EA2D2A" stroke-width="1.25"/>
<path d="M272.44,196.8V204.7M268.24,196.8H276.64M268.24,204.7H276.64" stroke="#EA2D2A" stroke-width="1.2" fill="none"/>
<circle cx="272.44" cy="200.8" r="1.8" fill="#fff" stroke="#EA2D2A" stroke-width="1.25"/>
<path d="M285.93,191.3V201.3M281.73,191.3H290.13M281.73,201.3H290.13" stroke="#EA2D2A" stroke-width="1.2" fill="none"/>
<circle cx="285.93" cy="195.8" r="1.8" fill="#fff" stroke="#EA2D2A" stroke-width="1.25"/>
<path d="M299.42,181.6V191.8M295.22,181.6H303.62M295.22,191.8H303.62" stroke="#EA2D2A" stroke-width="1.2" fill="none"/>
<circle cx="299.42" cy="186.8" r="1.8" fill="#fff" stroke="#EA2D2A" stroke-width="1.25"/>
<path d="M312.91,187.1V195.5M308.71,187.1H317.11M308.71,195.5H317.11" stroke="#EA2D2A" stroke-width="1.2" fill="none"/>
<circle cx="312.91" cy="191.3" r="1.8" fill="#fff" stroke="#EA2D2A" stroke-width="1.25"/>
<path d="M326.4,191.3V198.2M322.2,191.3H330.6M322.2,198.2H330.6" stroke="#EA2D2A" stroke-width="1.2" fill="none"/>
<circle cx="326.4" cy="194.6" r="1.8" fill="#fff" stroke="#EA2D2A" stroke-width="1.25"/>
<text x="173.6" y="269.5" font-size="10.8" fill="#7030A0" text-anchor="start" font-weight="bold" stroke="#7030A0" stroke-width="0.28">FWHM</text>
<rect x="44.2" y="262.1" width="95.1" height="42.7" fill="#fff" stroke="#858585" stroke-width="1.6"/>
<line x1="47.9" y1="270.1" x2="61.4" y2="270.1" stroke="#4A6DB3" stroke-width="1.5"/>
<line x1="47.1" y1="297.1" x2="60.7" y2="297.1" stroke="#EA2D2A" stroke-width="1.5"/>
<text x="65.1" y="273.7" font-size="9.6" fill="#2F58A0" text-anchor="start" font-weight="bold" stroke="#2F58A0" stroke-width="0.28">Non-entangled</text>
<text x="65.1" y="284.9" font-size="9.6" fill="#2F58A0" text-anchor="start" font-weight="bold" stroke="#2F58A0" stroke-width="0.28">state</text>
<text x="64.6" y="301.9" font-size="9.6" fill="#E8202A" text-anchor="start" font-weight="bold" stroke="#E8202A" stroke-width="0.28">Entangled state</text>
<text x="53" y="219.3" font-size="14.3" fill="#1A1A1A" text-anchor="start" font-weight="bold" font-style="italic" stroke="#1A1A1A" stroke-width="0.1">n=30</text>
<line x1="43.65" y1="176.5" x2="43.65" y2="319.2" stroke="#1E1E1E" stroke-width="1.3"/>
<line x1="43.65" y1="262.12" x2="46.65" y2="262.12" stroke="#1E1E1E" stroke-width="1.1"/>
<line x1="43.65" y1="290.66" x2="46.65" y2="290.66" stroke="#1E1E1E" stroke-width="1.1"/>
<text x="0.6" y="183.2" font-size="11.8" fill="#262626" text-anchor="start" font-weight="bold" stroke="#262626" stroke-width="0.28">(c)</text>
<text transform="translate(18.2,240.1) rotate(-90)" font-size="10" fill="#262626" stroke="#262626" stroke-width="0.35" text-anchor="middle" font-weight="bold">Parities</text>
<text x="170.2" y="342.4" font-size="10.5" fill="#262626" text-anchor="start" font-weight="bold">(</text>
<text x="173.9" y="342.4" font-size="7.5" fill="#262626" text-anchor="start" font-weight="bold" stroke="#262626" stroke-width="0.55">T</text>
<text x="179" y="345.4" font-size="6.2" fill="#3a3a3a" text-anchor="start" font-weight="bold">m</text>
<text x="186.7" y="342.4" font-size="8" fill="#262626" text-anchor="start" font-weight="bold" stroke="#262626" stroke-width="0.6">-</text>
<text x="191.6" y="342.4" font-size="7.5" fill="#262626" text-anchor="start" font-weight="bold" stroke="#262626" stroke-width="0.55">T</text>
<text x="196.4" y="345.4" font-size="6.2" fill="#3a3a3a" text-anchor="start" font-weight="bold">e</text>
<text x="201.5" y="342.4" font-size="10.5" fill="#262626" text-anchor="start" font-weight="bold">)</text>
<line x1="208.1" y1="345.3" x2="212.3" y2="334.4" stroke="#262626" stroke-width="1.0"/>
<text x="213.9" y="342.4" font-size="7.5" fill="#262626" text-anchor="start" font-weight="bold" stroke="#262626" stroke-width="0.55">T</text>
<text x="218.8" y="345.4" font-size="6.2" fill="#333" text-anchor="start" font-weight="bold" stroke="#333" stroke-width="0.1">e</text>
<rect x="451" y="6.6" width="12" height="143.7" fill="#A892C6"/>
<rect x="610" y="6.6" width="11" height="143.7" fill="#A892C6"/>
<path d="M393.7,6.6H524M540.6,6.6H683.8M393.7,6.6V150.3M683.8,6.6V150.3M393.7,150.3H523.5M542.1,150.3H683.8" stroke="#1E1E1E" stroke-width="1.3" fill="none"/>
<line x1="521.6" y1="1.2" x2="530.5" y2="14.6" stroke="#1E1E1E" stroke-width="1.3"/>
<line x1="535.7" y1="1.2" x2="542.6" y2="12.5" stroke="#1E1E1E" stroke-width="1.3"/>
<line x1="521.5" y1="142.3" x2="530.1" y2="156.3" stroke="#1E1E1E" stroke-width="1.3"/>
<line x1="536.6" y1="142.3" x2="545.6" y2="156.3" stroke="#1E1E1E" stroke-width="1.3"/>
<line x1="411.7" y1="6.6" x2="411.7" y2="9.4" stroke="#1E1E1E" stroke-width="1.1"/>
<line x1="411.7" y1="150.3" x2="411.7" y2="147.5" stroke="#1E1E1E" stroke-width="1.1"/>
<text x="409.1" y="159" font-size="8.2" fill="#262626" text-anchor="middle" font-weight="bold" stroke="#262626" stroke-width="0.28">-0.015</text>
<line x1="456.6" y1="6.6" x2="456.6" y2="9.4" stroke="#1E1E1E" stroke-width="1.1"/>
<line x1="456.6" y1="150.3" x2="456.6" y2="147.5" stroke="#1E1E1E" stroke-width="1.1"/>
<text x="454.3" y="159" font-size="8.2" fill="#262626" text-anchor="middle" font-weight="bold" stroke="#262626" stroke-width="0.28">-0.01</text>
<line x1="501.6" y1="6.6" x2="501.6" y2="9.4" stroke="#1E1E1E" stroke-width="1.1"/>
<line x1="501.6" y1="150.3" x2="501.6" y2="147.5" stroke="#1E1E1E" stroke-width="1.1"/>
<text x="499.5" y="159" font-size="8.2" fill="#262626" text-anchor="middle" font-weight="bold" stroke="#262626" stroke-width="0.28">-0.005</text>
<line x1="566" y1="6.6" x2="566" y2="9.4" stroke="#1E1E1E" stroke-width="1.1"/>
<line x1="566" y1="150.3" x2="566" y2="147.5" stroke="#1E1E1E" stroke-width="1.1"/>
<text x="563.4" y="159" font-size="8.2" fill="#262626" text-anchor="middle" font-weight="bold" stroke="#262626" stroke-width="0.28">0.005</text>
<line x1="615.3" y1="6.6" x2="615.3" y2="9.4" stroke="#1E1E1E" stroke-width="1.1"/>
<line x1="615.3" y1="150.3" x2="615.3" y2="147.5" stroke="#1E1E1E" stroke-width="1.1"/>
<text x="613.6" y="159" font-size="8.2" fill="#262626" text-anchor="middle" font-weight="bold" stroke="#262626" stroke-width="0.28">0.01</text>
<line x1="664.6" y1="6.6" x2="664.6" y2="9.4" stroke="#1E1E1E" stroke-width="1.1"/>
<line x1="664.6" y1="150.3" x2="664.6" y2="147.5" stroke="#1E1E1E" stroke-width="1.1"/>
<text x="662.2" y="159" font-size="8.2" fill="#262626" text-anchor="middle" font-weight="bold" stroke="#262626" stroke-width="0.28">0.015</text>
<line x1="393.7" y1="150.03" x2="396.7" y2="150.03" stroke="#1E1E1E" stroke-width="1.1"/>
<line x1="683.8" y1="150.03" x2="680.3" y2="150.03" stroke="#1E1E1E" stroke-width="1.1"/>
<text x="390.4" y="153.13" font-size="8.6" fill="#262626" text-anchor="end" font-weight="bold" stroke="#262626" stroke-width="0.28">0.3</text>
<line x1="393.7" y1="129.54" x2="396.7" y2="129.54" stroke="#1E1E1E" stroke-width="1.1"/>
<line x1="683.8" y1="129.54" x2="680.3" y2="129.54" stroke="#1E1E1E" stroke-width="1.1"/>
<text x="390.4" y="132.64" font-size="8.6" fill="#262626" text-anchor="end" font-weight="bold" stroke="#262626" stroke-width="0.28">0.4</text>
<line x1="393.7" y1="109.05" x2="396.7" y2="109.05" stroke="#1E1E1E" stroke-width="1.1"/>
<line x1="683.8" y1="109.05" x2="680.3" y2="109.05" stroke="#1E1E1E" stroke-width="1.1"/>
<text x="390.4" y="112.15" font-size="8.6" fill="#262626" text-anchor="end" font-weight="bold" stroke="#262626" stroke-width="0.28">0.5</text>
<line x1="393.7" y1="88.56" x2="396.7" y2="88.56" stroke="#1E1E1E" stroke-width="1.1"/>
<line x1="683.8" y1="88.56" x2="680.3" y2="88.56" stroke="#1E1E1E" stroke-width="1.1"/>
<text x="390.4" y="91.66" font-size="8.6" fill="#262626" text-anchor="end" font-weight="bold" stroke="#262626" stroke-width="0.28">0.6</text>
<line x1="393.7" y1="68.07" x2="396.7" y2="68.07" stroke="#1E1E1E" stroke-width="1.1"/>
<line x1="683.8" y1="68.07" x2="680.3" y2="68.07" stroke="#1E1E1E" stroke-width="1.1"/>
<text x="390.4" y="71.17" font-size="8.6" fill="#262626" text-anchor="end" font-weight="bold" stroke="#262626" stroke-width="0.28">0.7</text>
<line x1="393.7" y1="47.58" x2="396.7" y2="47.58" stroke="#1E1E1E" stroke-width="1.1"/>
<line x1="683.8" y1="47.58" x2="680.3" y2="47.58" stroke="#1E1E1E" stroke-width="1.1"/>
<text x="390.4" y="50.68" font-size="8.6" fill="#262626" text-anchor="end" font-weight="bold" stroke="#262626" stroke-width="0.28">0.8</text>
<line x1="393.7" y1="27.09" x2="396.7" y2="27.09" stroke="#1E1E1E" stroke-width="1.1"/>
<line x1="683.8" y1="27.09" x2="680.3" y2="27.09" stroke="#1E1E1E" stroke-width="1.1"/>
<text x="390.4" y="30.19" font-size="8.6" fill="#262626" text-anchor="end" font-weight="bold" stroke="#262626" stroke-width="0.28">0.9</text>
<line x1="393.7" y1="6.6" x2="396.7" y2="6.6" stroke="#1E1E1E" stroke-width="1.1"/>
<line x1="683.8" y1="6.6" x2="680.3" y2="6.6" stroke="#1E1E1E" stroke-width="1.1"/>
<text x="390.4" y="9.7" font-size="8.6" fill="#262626" text-anchor="end" font-weight="bold" stroke="#262626" stroke-width="0.28">1</text>
<path d="M393.6,48.7 C397.23,51.77 400.47,55.1 404.5,57.9 C408.84,60.91 414.06,63.42 418.9,66 C423.7,68.55 428.52,71.12 433.4,73.3 C438.18,75.44 443.08,77.08 447.9,79 C452.71,80.91 457.45,83.09 462.3,84.8 C467.09,86.49 471.96,87.84 476.8,89.2 C481.59,90.54 486.38,91.8 491.2,92.9 C496.01,94 500.53,95 505.7,95.8 C511.54,96.71 518.23,97.2 524.5,97.9" stroke="#2E5AAA" stroke-width="1.3" fill="none"/>
<path d="M540.8,99.2 C548.5,98.73 555.78,98.54 563.9,97.8 C573.01,96.97 583.19,95.83 592.8,94.3 C602.46,92.76 612.12,90.98 621.7,88.6 C631.39,86.19 641.54,82.85 650.6,79.9 C658.76,77.24 667.61,74.25 673.7,71.8 C677.8,70.15 680.43,68.73 683.8,67.2" stroke="#2E5AAA" stroke-width="1.3" fill="none"/>
<path d="M393.6,96.4 C397.23,98.33 400.56,100.37 404.5,102.2 C408.92,104.26 414.07,106.21 418.9,108 C423.7,109.78 428.56,111.31 433.4,112.9 C438.23,114.48 443.06,116.04 447.9,117.5 C452.7,118.94 457.47,120.38 462.3,121.6 C467.11,122.81 471.97,123.83 476.8,124.8 C481.6,125.76 486.38,126.68 491.2,127.4 C496.01,128.12 500.55,128.52 505.7,129.1 C511.56,129.76 518.23,130.43 524.5,131.1" stroke="#EA2D2A" stroke-width="1.3" fill="none"/>
<path d="M540.8,133.1 C548.5,132.7 555.78,132.52 563.9,131.9 C573,131.21 583.18,130.2 592.8,129 C602.45,127.8 612.1,126.52 621.7,124.7 C631.37,122.86 641.51,120.17 650.6,118 C658.74,116.05 667.6,114.05 673.7,112.3 C677.78,111.13 680.43,110.1 683.8,109" stroke="#EA2D2A" stroke-width="1.3" fill="none"/>
<path d="M439,34.4V89.4M434.9,34.4H443.1M434.9,89.4H443.1" stroke="#2E5AAA" stroke-width="1.35" fill="none"/>
<circle cx="439" cy="62.2" r="3.1" fill="#fff" stroke="#2E5AAA" stroke-width="1.35"/>
<path d="M474.6,61V98M470.5,61H478.7M470.5,98H478.7" stroke="#2E5AAA" stroke-width="1.35" fill="none"/>
<circle cx="474.6" cy="79.4" r="3.1" fill="#fff" stroke="#2E5AAA" stroke-width="1.35"/>
<path d="M511,9.6V86M506.9,9.6H515.1M506.9,86H515.1" stroke="#2E5AAA" stroke-width="1.35" fill="none"/>
<circle cx="511" cy="48" r="3.1" fill="#fff" stroke="#2E5AAA" stroke-width="1.35"/>
<path d="M556.4,43.6V98.8M552,43.6H560.8M552,98.8H560.8" stroke="#2E5AAA" stroke-width="1.35" fill="none"/>
<circle cx="556.4" cy="71.2" r="3.1" fill="#fff" stroke="#2E5AAA" stroke-width="1.35"/>
<path d="M595.8,71V102.4M591.4,71H600.2M591.4,102.4H600.2" stroke="#2E5AAA" stroke-width="1.35" fill="none"/>
<circle cx="595.8" cy="86.6" r="3.1" fill="#fff" stroke="#2E5AAA" stroke-width="1.35"/>
<path d="M635,41V101.4M630.6,41H639.4M630.6,101.4H639.4" stroke="#2E5AAA" stroke-width="1.35" fill="none"/>
<circle cx="635" cy="69.4" r="3.1" fill="#fff" stroke="#2E5AAA" stroke-width="1.35"/>
<path d="M439,105V111.6M434.9,105H443.1M434.9,111.6H443.1" stroke="#EA2D2A" stroke-width="1.35" fill="none"/>
<circle cx="439" cy="108" r="3.1" fill="#fff" stroke="#EA2D2A" stroke-width="1.35"/>
<path d="M474.6,122.4V135.4M470.5,122.4H478.7M470.5,135.4H478.7" stroke="#EA2D2A" stroke-width="1.35" fill="none"/>
<circle cx="474.6" cy="129" r="3.1" fill="#fff" stroke="#EA2D2A" stroke-width="1.35"/>
<path d="M511,98.4V138.4M506.9,98.4H515.1M506.9,138.4H515.1" stroke="#EA2D2A" stroke-width="1.35" fill="none"/>
<circle cx="511" cy="118.4" r="3.1" fill="#fff" stroke="#EA2D2A" stroke-width="1.35"/>
<path d="M556.4,111.6V129M552,111.6H560.8M552,129H560.8" stroke="#EA2D2A" stroke-width="1.35" fill="none"/>
<circle cx="556.4" cy="120" r="3.1" fill="#fff" stroke="#EA2D2A" stroke-width="1.35"/>
<path d="M595.8,124V131M591.4,124H600.2M591.4,131H600.2" stroke="#EA2D2A" stroke-width="1.35" fill="none"/>
<circle cx="595.8" cy="127.6" r="3.1" fill="#fff" stroke="#EA2D2A" stroke-width="1.35"/>
<path d="M635,107V117.6M630.6,107H639.4M630.6,117.6H639.4" stroke="#EA2D2A" stroke-width="1.35" fill="none"/>
<circle cx="635" cy="112.4" r="3.1" fill="#fff" stroke="#EA2D2A" stroke-width="1.35"/>
<rect x="538.4" y="12.4" width="143" height="28.1" fill="#fff" stroke="#4a4a4a" stroke-width="1.2"/>
<line x1="543.4" y1="20.5" x2="558" y2="20.5" stroke="#2B3196" stroke-width="1.4"/>
<line x1="543.4" y1="32.1" x2="557.4" y2="32.1" stroke="#E8343C" stroke-width="1.4"/>
<text x="568.6" y="21.8" font-size="9.6" fill="#2F58A0" text-anchor="start" font-weight="bold" stroke="#2F58A0" stroke-width="0.28">Standard quantum limit</text>
<text x="568.1" y="35.3" font-size="9.6" fill="#E8202A" text-anchor="start" font-weight="bold" stroke="#E8202A" stroke-width="0.28">Heisenberg limit</text>
<line x1="683.8" y1="6.6" x2="683.8" y2="150.3" stroke="#1E1E1E" stroke-width="1.3"/>
<line x1="683.8" y1="150.03" x2="680.3" y2="150.03" stroke="#1E1E1E" stroke-width="1.1"/>
<line x1="683.8" y1="129.54" x2="680.3" y2="129.54" stroke="#1E1E1E" stroke-width="1.1"/>
<line x1="683.8" y1="109.05" x2="680.3" y2="109.05" stroke="#1E1E1E" stroke-width="1.1"/>
<line x1="683.8" y1="88.56" x2="680.3" y2="88.56" stroke="#1E1E1E" stroke-width="1.1"/>
<line x1="683.8" y1="68.07" x2="680.3" y2="68.07" stroke="#1E1E1E" stroke-width="1.1"/>
<line x1="683.8" y1="47.58" x2="680.3" y2="47.58" stroke="#1E1E1E" stroke-width="1.1"/>
<line x1="683.8" y1="27.09" x2="680.3" y2="27.09" stroke="#1E1E1E" stroke-width="1.1"/>
<line x1="683.8" y1="6.6" x2="680.3" y2="6.6" stroke="#1E1E1E" stroke-width="1.1"/>
<text x="349.8" y="11.2" font-size="11.8" fill="#262626" text-anchor="start" font-weight="bold" stroke="#262626" stroke-width="0.28">(b)</text>
<text x="405" y="25.7" font-size="14.3" fill="#1A1A1A" text-anchor="start" font-weight="bold" font-style="italic" stroke="#1A1A1A" stroke-width="0.1">n=20</text>
<g transform="translate(369.2,89.3) rotate(-90)" fill="#262626" font-weight="bold" stroke="#262626" stroke-width="0.35">
<text x="0" y="0" font-size="10.4">Δ</text>
<text x="8.6" y="0" font-size="10">ω</text>
<text x="17.2" y="0" font-size="11.5">/</text>
<text x="21.9" y="0" font-size="8.8">T</text>
<text x="29.8" y="3.0" font-size="6.3" stroke-width="0.15">e</text>
</g>
<text x="516.1" y="166.2" font-size="10.5" fill="#262626" text-anchor="start" font-weight="bold">(</text>
<text x="519.8" y="166.2" font-size="7.5" fill="#262626" text-anchor="start" font-weight="bold" stroke="#262626" stroke-width="0.55">T</text>
<text x="524.9" y="169.2" font-size="6.2" fill="#3a3a3a" text-anchor="start" font-weight="bold">m</text>
<text x="532.6" y="166.2" font-size="8" fill="#262626" text-anchor="start" font-weight="bold" stroke="#262626" stroke-width="0.6">-</text>
<text x="537.5" y="166.2" font-size="7.5" fill="#262626" text-anchor="start" font-weight="bold" stroke="#262626" stroke-width="0.55">T</text>
<text x="542.3" y="169.2" font-size="6.2" fill="#3a3a3a" text-anchor="start" font-weight="bold">e</text>
<text x="547.4" y="166.2" font-size="10.5" fill="#262626" text-anchor="start" font-weight="bold">)</text>
<line x1="554" y1="169.1" x2="558.2" y2="158.2" stroke="#262626" stroke-width="1.0"/>
<text x="559.8" y="166.2" font-size="7.5" fill="#262626" text-anchor="start" font-weight="bold" stroke="#262626" stroke-width="0.55">T</text>
<text x="564.7" y="169.2" font-size="6.2" fill="#333" text-anchor="start" font-weight="bold" stroke="#333" stroke-width="0.1">e</text>
<rect x="448.2" y="177.6" width="14.8" height="141.5" fill="#A892C6"/>
<rect x="601" y="177.6" width="12.2" height="141.5" fill="#A892C6"/>
<path d="M393.6,177.6H518M536,177.6H683.8M393.6,177.6V319.1M683.8,177.6V319.1M393.6,319.1H514.5M534.5,319.1H683.8" stroke="#1E1E1E" stroke-width="1.3" fill="none"/>
<line x1="515.6" y1="172" x2="524.4" y2="185" stroke="#1E1E1E" stroke-width="1.3"/>
<line x1="531" y1="172" x2="540" y2="185.6" stroke="#1E1E1E" stroke-width="1.3"/>
<line x1="512" y1="312.6" x2="521" y2="326" stroke="#1E1E1E" stroke-width="1.3"/>
<line x1="530" y1="312.6" x2="538.4" y2="326" stroke="#1E1E1E" stroke-width="1.3"/>
<line x1="413.3" y1="177.6" x2="413.3" y2="180.4" stroke="#1E1E1E" stroke-width="1.1"/>
<line x1="413.3" y1="319.1" x2="413.3" y2="316.3" stroke="#1E1E1E" stroke-width="1.1"/>
<text x="411.9" y="330.8" font-size="8.2" fill="#262626" text-anchor="middle" font-weight="bold" stroke="#262626" stroke-width="0.28">-0.005</text>
<line x1="453.9" y1="177.6" x2="453.9" y2="180.4" stroke="#1E1E1E" stroke-width="1.1"/>
<line x1="453.9" y1="319.1" x2="453.9" y2="316.3" stroke="#1E1E1E" stroke-width="1.1"/>
<text x="454.8" y="330.8" font-size="8.2" fill="#262626" text-anchor="middle" font-weight="bold" stroke="#262626" stroke-width="0.28">-0.004</text>
<line x1="494.5" y1="177.6" x2="494.5" y2="180.4" stroke="#1E1E1E" stroke-width="1.1"/>
<line x1="494.5" y1="319.1" x2="494.5" y2="316.3" stroke="#1E1E1E" stroke-width="1.1"/>
<text x="499.5" y="330.8" font-size="8.2" fill="#262626" text-anchor="middle" font-weight="bold" stroke="#262626" stroke-width="0.28">-0.003</text>
<line x1="556" y1="177.6" x2="556" y2="180.4" stroke="#1E1E1E" stroke-width="1.1"/>
<line x1="556" y1="319.1" x2="556" y2="316.3" stroke="#1E1E1E" stroke-width="1.1"/>
<text x="558.3" y="330.8" font-size="8.2" fill="#262626" text-anchor="middle" font-weight="bold" stroke="#262626" stroke-width="0.28">0.003</text>
<line x1="607.3" y1="177.6" x2="607.3" y2="180.4" stroke="#1E1E1E" stroke-width="1.1"/>
<line x1="607.3" y1="319.1" x2="607.3" y2="316.3" stroke="#1E1E1E" stroke-width="1.1"/>
<text x="607" y="330.8" font-size="8.2" fill="#262626" text-anchor="middle" font-weight="bold" stroke="#262626" stroke-width="0.28">0.004</text>
<line x1="658.5" y1="177.6" x2="658.5" y2="180.4" stroke="#1E1E1E" stroke-width="1.1"/>
<line x1="658.5" y1="319.1" x2="658.5" y2="316.3" stroke="#1E1E1E" stroke-width="1.1"/>
<text x="656.1" y="330.8" font-size="8.2" fill="#262626" text-anchor="middle" font-weight="bold" stroke="#262626" stroke-width="0.28">0.005</text>
<line x1="393.6" y1="301.4" x2="396.6" y2="301.4" stroke="#1E1E1E" stroke-width="1.1"/>
<line x1="683.8" y1="301.4" x2="680.3" y2="301.4" stroke="#1E1E1E" stroke-width="1.1"/>
<text x="390.4" y="304.3" font-size="8.3" fill="#2a2a2a" text-anchor="end" font-weight="normal" stroke="#2a2a2a" stroke-width="0.2">0.1</text>
<line x1="393.6" y1="266.1" x2="396.6" y2="266.1" stroke="#1E1E1E" stroke-width="1.1"/>
<line x1="683.8" y1="266.1" x2="680.3" y2="266.1" stroke="#1E1E1E" stroke-width="1.1"/>
<text x="390.4" y="269" font-size="8.3" fill="#2a2a2a" text-anchor="end" font-weight="normal" stroke="#2a2a2a" stroke-width="0.2">0.2</text>
<line x1="393.6" y1="230.8" x2="396.6" y2="230.8" stroke="#1E1E1E" stroke-width="1.1"/>
<line x1="683.8" y1="230.8" x2="680.3" y2="230.8" stroke="#1E1E1E" stroke-width="1.1"/>
<text x="390.4" y="233.7" font-size="8.3" fill="#2a2a2a" text-anchor="end" font-weight="normal" stroke="#2a2a2a" stroke-width="0.2">0.3</text>
<line x1="393.6" y1="195.5" x2="396.6" y2="195.5" stroke="#1E1E1E" stroke-width="1.1"/>
<line x1="683.8" y1="195.5" x2="680.3" y2="195.5" stroke="#1E1E1E" stroke-width="1.1"/>
<text x="390.4" y="198.4" font-size="8.3" fill="#2a2a2a" text-anchor="end" font-weight="normal" stroke="#2a2a2a" stroke-width="0.2">0.4</text>
<path d="M393.6,248.4 C414.07,249.37 434.4,250.37 455,251.3 C475.86,252.24 497,253.1 518,254" stroke="#2E5AAA" stroke-width="1.3" fill="none"/>
<path d="M535.6,255.2 C557.07,254.57 577.12,253.92 600,253.3 C626.1,252.59 655.87,251.9 683.8,251.2" stroke="#2E5AAA" stroke-width="1.3" fill="none"/>
<path d="M393.6,274.4 C414.07,275.07 434.4,275.74 455,276.4 C475.86,277.07 497,277.73 518,278.4" stroke="#EA2D2A" stroke-width="1.3" fill="none"/>
<path d="M535.6,279 C557.07,278.63 577.12,278.27 600,277.9 C626.1,277.47 655.87,277.03 683.8,276.6" stroke="#EA2D2A" stroke-width="1.3" fill="none"/>
<path d="M413.6,207V280.4M409.6,207H417.6M409.6,280.4H417.6" stroke="#2E5AAA" stroke-width="1.35" fill="none"/>
<circle cx="413.6" cy="243.6" r="3.25" fill="#fff" stroke="#2E5AAA" stroke-width="1.35"/>
<path d="M454,195V296.4M450,195H458M450,296.4H458" stroke="#2E5AAA" stroke-width="1.35" fill="none"/>
<circle cx="454" cy="245.6" r="3.25" fill="#fff" stroke="#2E5AAA" stroke-width="1.35"/>
<path d="M494.4,209.4V282.4M490.4,209.4H498.4M490.4,282.4H498.4" stroke="#2E5AAA" stroke-width="1.35" fill="none"/>
<circle cx="494.4" cy="245.6" r="3.25" fill="#fff" stroke="#2E5AAA" stroke-width="1.35"/>
<path d="M556.2,218V290.6M551,218H561.4M551,290.6H561.4" stroke="#2E5AAA" stroke-width="1.35" fill="none"/>
<circle cx="556.2" cy="247.8" r="3.25" fill="#fff" stroke="#2E5AAA" stroke-width="1.35"/>
<path d="M607.4,248.4V259.6M602.2,248.4H612.6M602.2,259.6H612.6" stroke="#2E5AAA" stroke-width="1.35" fill="none"/>
<circle cx="607.4" cy="254" r="3.25" fill="#fff" stroke="#2E5AAA" stroke-width="1.35"/>
<path d="M658.6,242.4V261.4M653.4,242.4H663.8M653.4,261.4H663.8" stroke="#2E5AAA" stroke-width="1.35" fill="none"/>
<circle cx="658.6" cy="251" r="3.25" fill="#fff" stroke="#2E5AAA" stroke-width="1.35"/>
<path d="M413.6,271.6V298.6M409.6,271.6H417.6M409.6,298.6H417.6" stroke="#EA2D2A" stroke-width="1.35" fill="none"/>
<circle cx="413.6" cy="285.4" r="3.25" fill="#fff" stroke="#EA2D2A" stroke-width="1.35"/>
<path d="M454,263.6V289.4M450,263.6H458M450,289.4H458" stroke="#EA2D2A" stroke-width="1.35" fill="none"/>
<circle cx="454" cy="276.5" r="3.25" fill="#fff" stroke="#EA2D2A" stroke-width="1.35"/>
<path d="M494.4,237V277M490.4,237H498.4M490.4,277H498.4" stroke="#EA2D2A" stroke-width="1.35" fill="none"/>
<circle cx="494.4" cy="256.6" r="3.25" fill="#fff" stroke="#EA2D2A" stroke-width="1.35"/>
<path d="M556.2,269.6V307.4M551,269.6H561.4M551,307.4H561.4" stroke="#EA2D2A" stroke-width="1.35" fill="none"/>
<circle cx="556.2" cy="288.4" r="3.25" fill="#fff" stroke="#EA2D2A" stroke-width="1.35"/>
<path d="M607.4,256V299.4M602.2,256H612.6M602.2,299.4H612.6" stroke="#EA2D2A" stroke-width="1.35" fill="none"/>
<circle cx="607.4" cy="278" r="3.25" fill="#fff" stroke="#EA2D2A" stroke-width="1.35"/>
<path d="M658.6,254.4V283.6M653.4,254.4H663.8M653.4,283.6H663.8" stroke="#EA2D2A" stroke-width="1.35" fill="none"/>
<circle cx="658.6" cy="269" r="3.25" fill="#fff" stroke="#EA2D2A" stroke-width="1.35"/>
<rect x="535.4" y="189.4" width="143" height="28.6" fill="#fff" stroke="#4a4a4a" stroke-width="1.2"/>
<line x1="540.4" y1="197.5" x2="555" y2="197.5" stroke="#2B3196" stroke-width="1.4"/>
<line x1="540.4" y1="209.1" x2="554.4" y2="209.1" stroke="#E8343C" stroke-width="1.4"/>
<text x="565.6" y="198.8" font-size="9.6" fill="#2F58A0" text-anchor="start" font-weight="bold" stroke="#2F58A0" stroke-width="0.28">Standard quantum limit</text>
<text x="565.1" y="212.3" font-size="9.6" fill="#E8202A" text-anchor="start" font-weight="bold" stroke="#E8202A" stroke-width="0.28">Heisenberg limit</text>
<line x1="683.8" y1="177.6" x2="683.8" y2="319.1" stroke="#1E1E1E" stroke-width="1.3"/>
<line x1="683.8" y1="301.4" x2="680.3" y2="301.4" stroke="#1E1E1E" stroke-width="1.1"/>
<line x1="683.8" y1="266.1" x2="680.3" y2="266.1" stroke="#1E1E1E" stroke-width="1.1"/>
<line x1="683.8" y1="230.8" x2="680.3" y2="230.8" stroke="#1E1E1E" stroke-width="1.1"/>
<line x1="683.8" y1="195.5" x2="680.3" y2="195.5" stroke="#1E1E1E" stroke-width="1.1"/>
<text x="351.6" y="180.8" font-size="11.8" fill="#262626" text-anchor="start" font-weight="bold" stroke="#262626" stroke-width="0.28">(d)</text>
<text x="403" y="197.6" font-size="14.3" fill="#1A1A1A" text-anchor="start" font-weight="bold" font-style="italic" stroke="#1A1A1A" stroke-width="0.1">n=30</text>
<g transform="translate(368.3,262.6) rotate(-90)" fill="#262626" font-weight="bold" stroke="#262626" stroke-width="0.35">
<text x="0" y="0" font-size="10.4">Δ</text>
<text x="9.4" y="0" font-size="10">ω</text>
<text x="18.3" y="0" font-size="11.5">/</text>
<text x="24.2" y="0" font-size="8.8">T</text>
<text x="30.5" y="3.0" font-size="6.3" stroke-width="0.15">e</text>
</g>
<text x="517.2" y="341.2" font-size="10.5" fill="#262626" text-anchor="start" font-weight="bold">(</text>
<text x="520.9" y="341.2" font-size="7.5" fill="#262626" text-anchor="start" font-weight="bold" stroke="#262626" stroke-width="0.55">T</text>
<text x="526" y="344.2" font-size="6.2" fill="#3a3a3a" text-anchor="start" font-weight="bold">m</text>
<text x="533.7" y="341.2" font-size="8" fill="#262626" text-anchor="start" font-weight="bold" stroke="#262626" stroke-width="0.6">-</text>
<text x="538.6" y="341.2" font-size="7.5" fill="#262626" text-anchor="start" font-weight="bold" stroke="#262626" stroke-width="0.55">T</text>
<text x="543.4" y="344.2" font-size="6.2" fill="#3a3a3a" text-anchor="start" font-weight="bold">e</text>
<text x="548.5" y="341.2" font-size="10.5" fill="#262626" text-anchor="start" font-weight="bold">)</text>
<line x1="555.1" y1="344.1" x2="559.3" y2="333.2" stroke="#262626" stroke-width="1.0"/>
<text x="560.9" y="341.2" font-size="7.5" fill="#262626" text-anchor="start" font-weight="bold" stroke="#262626" stroke-width="0.55">T</text>
<text x="565.8" y="344.2" font-size="6.2" fill="#333" text-anchor="start" font-weight="bold" stroke="#333" stroke-width="0.1">e</text>
</svg></body></html>
